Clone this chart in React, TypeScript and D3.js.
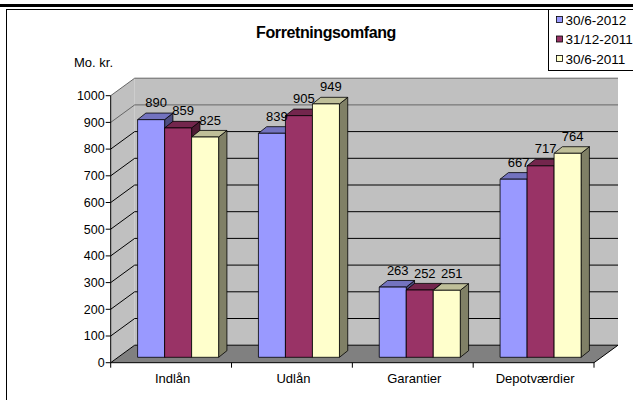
import React from 'react';
import * as d3 from 'd3';

const categories = ['Indlån', 'Udlån', 'Garantier', 'Depotværdier'];
const seriesNames = ['30/6-2012', '31/12-2011', '30/6-2011'];
const values2012jun = [890, 839, 263, 667];
const values2011dec = [859, 905, 252, 717];
const values2011jun = [825, 949, 251, 764];
const yTicks = [0, 100, 200, 300, 400, 500, 600, 700, 800, 900, 1000];

const seriesValues = [values2012jun, values2011dec, values2011jun];
const colors = ['#9999FF', '#993366', '#FFFFCC'];

const W = 633;
const H = 400;
const FONT = '"Liberation Sans", Arial, sans-serif';

// plot box (front plane) and 3d depth
const x0 = 110.7;
const x1 = 594;
const yBottom = 362.7;
const yTop = 95.7;
const depthX = 24;
const depthY = -17.5;
// bars sit a bit back from the front plane
const barOffX = 7;
const barOffY = -5.4;
const barDepthX = 8.3;
const barDepthY = -6.6;

function shade(c: string, k: number) {
  const rgb = d3.rgb(c);
  return d3.rgb(rgb.r * k, rgb.g * k, rgb.b * k).formatHex();
}

function pts(p: number[][]) {
  return p.map(d => d.join(',')).join(' ');
}

export default function App() {
  const x = d3.scaleBand<string>().domain(categories).range([x0, x1]).padding(0);
  const inner = d3.scaleBand<string>()
    .domain(seriesNames)
    .range([0, x.bandwidth()])
    .paddingInner(0)
    .paddingOuter(0.737);
  const y = d3.scaleLinear().domain([0, 1000]).range([yBottom, yTop]);

  const bars: JSX.Element[] = [];
  const labels: JSX.Element[] = [];
  categories.forEach((cat, ci) => {
    seriesNames.forEach((s, si) => {
      const v = seriesValues[si][ci];
      const bx = (x(cat) as number) + (inner(s) as number) + barOffX;
      const bw = inner.bandwidth();
      const by = y(v) + barOffY;
      const bb = y(0) + barOffY;
      const c = colors[si];
      bars.push(
        <g key={`${cat}-${s}`} stroke="#000" strokeWidth={0.8} strokeLinejoin="round">
          <polygon
            points={pts([[bx + bw, bb], [bx + bw, by], [bx + bw + barDepthX, by + barDepthY], [bx + bw + barDepthX, bb + barDepthY]])}
            fill={shade(c, 0.5)}
          />
          <polygon
            points={pts([[bx, by], [bx + barDepthX, by + barDepthY], [bx + bw + barDepthX, by + barDepthY], [bx + bw, by]])}
            fill={shade(c, 0.75)}
          />
          <rect x={bx} y={by} width={bw} height={bb - by} fill={c} />
        </g>
      );
      labels.push(
        <text key={`l-${cat}-${s}`} x={bx + bw / 2 + 5} y={by - 12.5} textAnchor="middle" fontSize={13} fill="#000">
          {v}
        </text>
      );
    });
  });

  return (
    <svg width={W} height={H} style={{ position: 'absolute', left: 0, top: 0 }} fontFamily={FONT}>
      <rect x={0} y={0} width={W} height={H} fill="#fff" />
      {/* top rule and frame */}
      <rect x={0} y={4} width={W} height={3} fill="#000" />
      <rect x={6.5} y={9.5} width={700} height={500} fill="#fff" stroke="#000" strokeWidth={1} />

      {/* walls */}
      <polygon
        points={pts([[x0, yBottom], [x0, yTop], [x0 + depthX, yTop + depthY], [x0 + depthX, yBottom + depthY]])}
        fill="#c0c0c0"
      />
      <rect x={x0 + depthX} y={yTop + depthY} width={x1 - x0} height={yBottom - yTop} fill="#c0c0c0" />
      <polygon
        points={pts([[x0, yBottom], [x1, yBottom], [x1 + depthX, yBottom + depthY], [x0 + depthX, yBottom + depthY]])}
        fill="#808080"
      />

      {/* gridlines */}
      {yTicks.map(t => (
        <g key={`g${t}`} stroke={t >= 900 ? '#666' : '#000'} strokeWidth={1}>
          <line x1={x0} y1={y(t)} x2={x0 + depthX} y2={y(t) + depthY} />
          <line x1={x0 + depthX} y1={y(t) + depthY} x2={x1 + depthX} y2={y(t) + depthY} />
        </g>
      ))}
      <line x1={x1} y1={yBottom} x2={x1 + depthX} y2={yBottom + depthY} stroke="#000" />

      {/* y axis */}
      <line x1={x0} y1={yBottom} x2={x0} y2={yTop} stroke="#000" />
      {yTicks.map(t => (
        <g key={`t${t}`}>
          <line x1={x0 - 5} y1={y(t)} x2={x0} y2={y(t)} stroke="#000" />
          <text x={x0 - 6} y={y(t)} dy="0.35em" textAnchor="end" fontSize={12.5} fill="#000">
            {t}
          </text>
        </g>
      ))}

      {/* x axis */}
      <line x1={x0} y1={yBottom} x2={x1} y2={yBottom} stroke="#000" />
      {categories.map(c => (
        <line key={`xt${c}`} x1={x(c)} y1={yBottom} x2={x(c)} y2={yBottom + 5} stroke="#000" />
      ))}
      <line x1={x1} y1={yBottom} x2={x1} y2={yBottom + 5} stroke="#000" />
      {categories.map(c => (
        <text key={`xl${c}`} x={(x(c) as number) + x.bandwidth() / 2 + 1.5} y={383} textAnchor="middle" fontSize={13} fill="#000">
          {c}
        </text>
      ))}

      {bars}
      {labels}

      {/* titles */}
      <text x={326} y={38} textAnchor="middle" fontSize={16} fontWeight="bold" letterSpacing={-0.4} fill="#000">
        Forretningsomfang
      </text>
      <text x={74} y={67} fontSize={13} fill="#000">
        Mo. kr.
      </text>

      {/* legend */}
      <rect x={548.5} y={9.5} width={90} height={61} fill="#fff" stroke="#000" strokeWidth={1} />
      {seriesNames.map((s, i) => {
        const cy = 20 + i * 19.5;
        return (
          <g key={`lg${s}`}>
            <rect x={556.5} y={cy - 3.5} width={6} height={6} fill={colors[i]} stroke="#000" strokeWidth={0.8} />
            <text x={565.5} y={cy} dy="0.35em" fontSize={13.5} fill="#000">
              {s}
            </text>
          </g>
        );
      })}
    </svg>
  );
}
